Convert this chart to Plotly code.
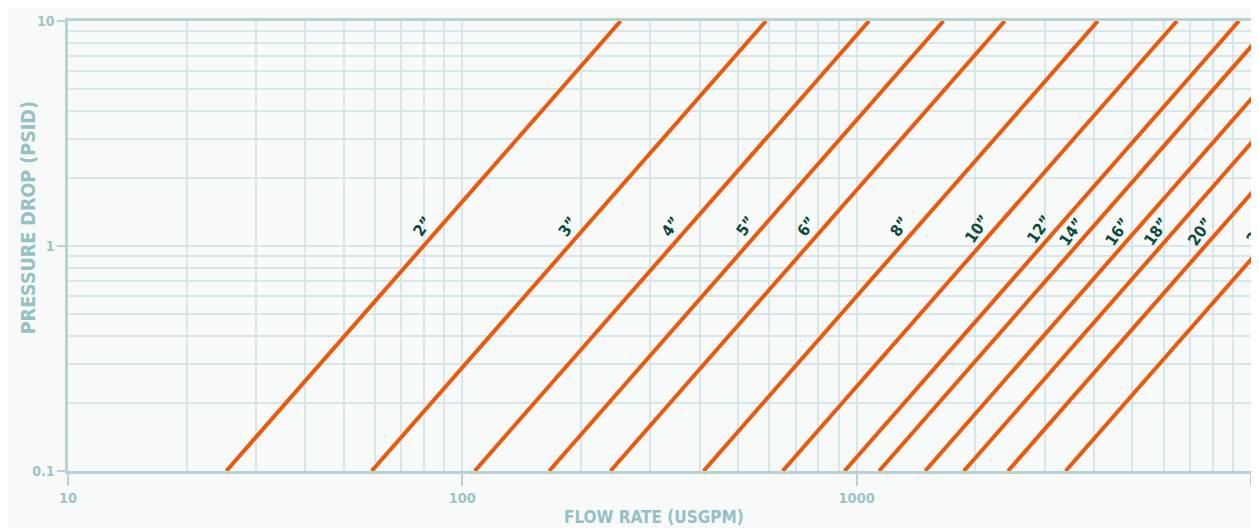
import math
import plotly.graph_objects as go

# ---- data ----
sizes = ['2”', '3”', '4”', '5”', '6”', '8”', '10”', '12”', '14”', '16”', '18”', '20”', '24”']
flow_at_01psid = [25.2, 58.9, 107.5, 166, 237.5, 409, 649, 932, 1140, 1492, 1870, 2420, 3388]
flow_at_10psid = [252, 589, 1075, 1660, 2375, 4090, 6490, 9320, 11400, 14920, 18700, 24200, 33880]
label_psid = [1.22, 1.22, 1.22, 1.22, 1.22, 1.22, 1.20, 1.19, 1.165, 1.165, 1.165, 1.165, 1.18]

x_ticks = [10, 100, 1000, 10000]
x_ticktext = ['10', '100', '1000', '10000']
y_ticks = [0.1, 1, 10]
y_ticktext = ['0.1', '1', '10']

X_RANGE = [1, 4]   # log10 of 10 .. 10000
Y_RANGE = [-1, 1]  # log10 of 0.1 .. 10

# ---- styling ----
BG = '#f8fafa'
GRID = '#d7e6e9'
AXIS = '#b7d3d6'
TICKFONT = '#9cc4c8'
TITLEFONT = '#95c1c5'
LINE = '#ea5a0d'
LABEL = '#0d4a3a'
FONT = 'DejaVu Sans Condensed, Liberation Sans Narrow, Arial Narrow, sans-serif'

fig = go.Figure()
for name, q0, q1 in zip(sizes, flow_at_01psid, flow_at_10psid):
    fig.add_trace(go.Scatter(x=[q0, q1], y=[0.1, 10], mode='lines',
                             line=dict(color=LINE, width=4), name=name,
                             showlegend=False, hoverinfo='skip'))

for name, q0, q1, dp in zip(sizes, flow_at_01psid, flow_at_10psid, label_psid):
    # point on the straight log-log line at the label's pressure drop
    t = (math.log10(dp) - math.log10(0.1)) / (math.log10(10) - math.log10(0.1))
    lx = math.log10(q0) + t * (math.log10(q1) - math.log10(q0))
    px = (lx - X_RANGE[0]) / (X_RANGE[1] - X_RANGE[0])
    py = (math.log10(dp) - Y_RANGE[0]) / (Y_RANGE[1] - Y_RANGE[0])
    fig.add_annotation(x=px, y=py, xref='paper', yref='paper', text='<b>' + name + '</b>',
                       showarrow=False, textangle=-55, xshift=-18,
                       xanchor='center', yanchor='middle',
                       font=dict(family=FONT, size=16, color=LABEL))

minor_x = [d * m for d in [10, 100, 1000] for m in range(2, 10)]
minor_y = [d * m for d in [0.1, 1] for m in range(2, 10)]

fig.update_xaxes(type='log', range=X_RANGE, tickvals=x_ticks, ticktext=x_ticktext,
                 showgrid=True, gridcolor=GRID, gridwidth=1.5,
                 minor=dict(tickvals=minor_x, showgrid=True, gridcolor=GRID, gridwidth=1.5, ticks=''),
                 showline=True, linecolor=AXIS, linewidth=3, mirror=True,
                 ticks='outside', ticklen=12, tickwidth=2, tickcolor=AXIS,
                 tickfont=dict(family=FONT, size=14.5, color=TICKFONT, weight='bold'),
                 zeroline=False)
fig.update_yaxes(type='log', range=Y_RANGE, tickvals=y_ticks, ticktext=y_ticktext,
                 showgrid=True, gridcolor=GRID, gridwidth=1.5,
                 minor=dict(tickvals=minor_y, showgrid=True, gridcolor=GRID, gridwidth=1.5, ticks=''),
                 showline=True, linecolor=AXIS, linewidth=2.5, mirror=True,
                 ticks='outside', ticklen=8, tickwidth=2, tickcolor=AXIS,
                 tickfont=dict(family=FONT, size=14, color=TICKFONT, weight='bold'),
                 zeroline=False)

fig.add_annotation(text='<b>PRESSURE DROP (PSID)</b>', xref='paper', yref='paper',
                   x=-0.0337, y=0.562, textangle=-90, showarrow=False,
                   xanchor='center', yanchor='middle',
                   font=dict(family=FONT, size=19.5, color=TITLEFONT))
fig.add_annotation(text='<b>FLOW RATE (USGPM)</b>', xref='paper', yref='paper',
                   x=0.4955, y=-0.1018, showarrow=False,
                   xanchor='center', yanchor='middle',
                   font=dict(family=FONT, size=17, color=TITLEFONT))

# page body has an 8px margin: figure is shifted by (8, 8) in the window
fig.update_layout(width=1251, height=520, paper_bgcolor=BG, plot_bgcolor=BG,
                  margin=dict(l=60, r=5, t=11, b=57), showlegend=False)

fig.write_html('out.html')
